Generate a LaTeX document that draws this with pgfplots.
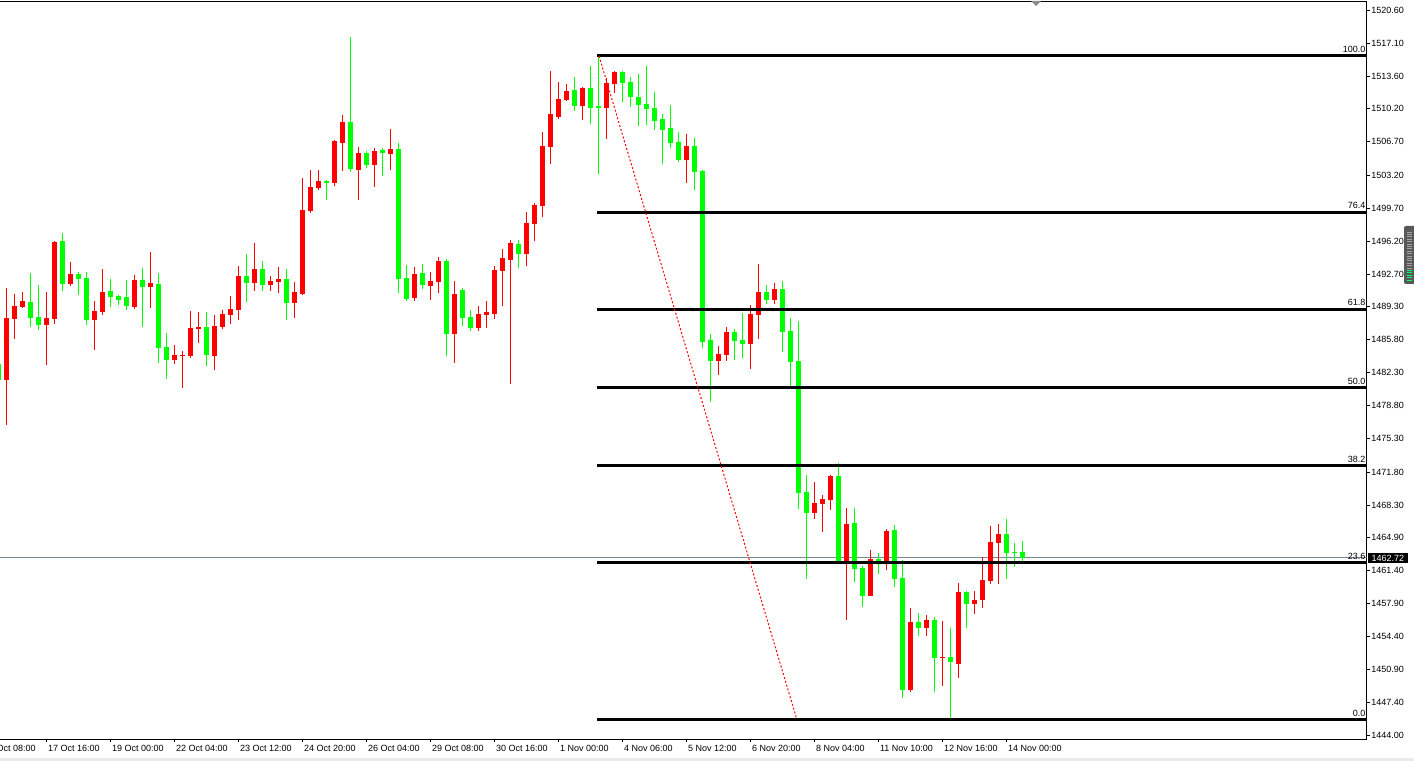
\documentclass[border=0pt]{standalone}
\usepackage{pgfplots}
\pgfplotsset{compat=1.18}
\usepackage{pgfplotstable}
\usepackage{fontspec}
\setmainfont{Liberation Sans}
\definecolor{bull}{RGB}{255,0,0}
\definecolor{bear}{RGB}{0,255,0}
\definecolor{pline}{RGB}{119,136,153}

% bullish candles (drawn red): x = bar index, o h l c
\pgfplotstableread{
x o h l c
0 1481.56 1491.25 1476.80 1488.08
1 1488.00 1490.61 1485.89 1489.35
2 1489.24 1490.82 1489.13 1489.87
5 1487.37 1490.82 1483.14 1488.08
6 1488.00 1496.20 1487.47 1496.11
8 1491.70 1494.00 1491.49 1492.73
11 1487.90 1489.87 1484.73 1488.82
12 1488.74 1493.26 1488.43 1490.82
16 1489.24 1492.62 1489.06 1492.09
18 1491.39 1495.05 1489.17 1491.78
21 1483.67 1485.22 1483.25 1484.17
22 1484.06 1484.59 1480.71 1484.17
23 1484.09 1488.82 1483.88 1487.02
24 1486.95 1488.71 1485.47 1487.13
26 1484.09 1488.39 1482.61 1487.23
27 1487.16 1488.92 1486.95 1488.50
28 1488.43 1490.40 1487.47 1489.03
29 1488.95 1493.57 1487.90 1492.52
31 1491.81 1496.00 1490.96 1493.26
33 1491.60 1492.52 1490.96 1491.99
34 1491.91 1493.47 1490.75 1492.20
36 1489.69 1491.88 1488.11 1490.82
37 1490.61 1502.88 1490.50 1499.49
38 1499.39 1503.72 1499.21 1501.92
39 1501.82 1503.72 1501.64 1502.56
41 1502.35 1506.85 1502.06 1506.79
42 1506.57 1509.53 1503.65 1508.79
44 1503.75 1506.15 1500.58 1505.52
46 1504.28 1506.05 1501.96 1505.73
48 1505.44 1508.05 1503.75 1505.94
51 1490.22 1493.47 1489.91 1492.73
53 1491.49 1492.94 1490.01 1491.99
54 1491.91 1494.53 1490.75 1494.10
56 1486.42 1491.99 1483.35 1490.61
59 1487.05 1489.35 1486.74 1488.50
60 1488.39 1489.87 1487.05 1488.71
61 1488.53 1493.57 1488.00 1493.15
62 1493.08 1495.37 1489.38 1494.42
63 1494.24 1496.32 1481.13 1496.00
65 1494.87 1499.28 1493.61 1498.12
66 1498.04 1500.23 1496.25 1500.02
67 1499.95 1507.74 1498.78 1506.26
68 1506.18 1514.19 1504.39 1509.64
69 1509.35 1513.02 1509.14 1511.23
70 1511.15 1512.81 1511.05 1512.07
72 1510.52 1512.45 1509.04 1512.39
75 1510.31 1513.45 1507.03 1512.92
76 1512.84 1514.19 1511.89 1514.08
85 1504.81 1507.53 1502.38 1506.26
89 1483.56 1485.12 1482.08 1484.27
90 1484.20 1487.13 1483.56 1486.60
93 1485.36 1489.45 1482.72 1488.50
94 1488.43 1493.79 1485.89 1490.82
96 1490.01 1491.78 1489.59 1491.14
101 1467.50 1470.74 1466.86 1468.52
102 1468.45 1469.40 1465.49 1468.95
103 1468.87 1471.48 1467.82 1471.38
105 1462.29 1467.99 1456.19 1466.30
108 1458.72 1463.55 1458.65 1462.60
110 1462.32 1465.77 1461.47 1465.56
113 1448.79 1457.42 1448.58 1455.94
115 1455.34 1456.69 1454.50 1456.16
117 1452.17 1456.05 1449.21 1452.28
119 1451.54 1460.07 1450.06 1459.12
121 1457.88 1459.22 1456.82 1458.27
122 1458.30 1462.82 1457.46 1460.39
123 1460.31 1466.09 1459.99 1464.40
124 1464.33 1466.30 1459.99 1465.25
}\bulls

% bearish candles (drawn lime)
\pgfplotstableread{
x o h l c
-1 1483.22 1483.64 1481.00 1481.52
3 1489.77 1492.80 1487.16 1488.11
4 1488.18 1491.57 1486.84 1487.37
7 1496.18 1497.03 1490.96 1491.70
9 1492.73 1492.94 1490.54 1492.23
10 1492.31 1492.94 1487.37 1487.90
13 1490.93 1492.17 1489.27 1490.33
14 1490.40 1490.51 1489.48 1490.01
15 1490.30 1492.09 1488.95 1489.35
17 1492.09 1493.36 1487.16 1491.39
19 1491.67 1492.83 1483.35 1484.94
20 1485.01 1486.49 1481.66 1483.67
25 1487.13 1488.71 1483.04 1484.20
30 1492.52 1494.84 1489.80 1491.81
32 1493.26 1494.10 1490.96 1491.60
35 1492.20 1493.26 1487.90 1489.69
40 1502.56 1502.66 1500.58 1502.35
43 1508.79 1517.78 1503.54 1503.86
45 1505.52 1505.73 1503.96 1504.28
47 1505.83 1506.05 1503.12 1505.55
49 1505.94 1506.57 1490.75 1492.23
50 1492.34 1493.71 1489.91 1490.12
52 1492.83 1493.79 1491.17 1491.60
55 1494.10 1494.31 1484.09 1486.42
57 1491.04 1491.25 1487.26 1488.11
58 1488.18 1488.92 1486.74 1487.05
64 1495.90 1496.32 1493.39 1494.87
71 1512.18 1513.55 1509.99 1510.52
73 1512.39 1514.71 1508.62 1510.31
74 1510.49 1515.84 1503.33 1510.31
77 1514.08 1514.15 1510.94 1512.95
78 1513.02 1513.55 1510.41 1511.47
79 1511.44 1513.87 1508.40 1510.62
80 1510.70 1514.71 1508.51 1510.20
81 1510.27 1511.97 1507.98 1508.93
82 1509.11 1509.64 1504.39 1507.98
83 1508.16 1510.59 1506.08 1506.61
84 1506.68 1507.74 1504.60 1504.81
86 1506.26 1507.10 1501.64 1503.54
87 1503.65 1503.75 1484.94 1485.57
88 1485.75 1486.39 1479.23 1483.56
91 1486.60 1486.91 1483.67 1485.68
92 1485.75 1488.61 1483.88 1485.36
95 1490.82 1491.57 1489.59 1490.01
97 1491.14 1491.99 1484.52 1486.63
98 1486.70 1488.08 1480.92 1483.46
99 1483.53 1487.76 1467.92 1469.61
100 1469.69 1471.48 1460.52 1467.50
104 1471.38 1472.75 1462.25 1462.32
106 1466.41 1467.99 1460.20 1461.58
107 1461.65 1461.86 1457.56 1458.72
109 1462.60 1463.23 1461.05 1462.32
111 1465.67 1466.20 1459.68 1460.52
112 1460.60 1462.50 1447.94 1448.79
114 1455.94 1456.90 1454.50 1455.34
116 1456.16 1456.47 1448.58 1452.17
118 1452.28 1455.34 1445.62 1451.75
120 1459.12 1459.20 1455.34 1457.88
125 1465.25 1466.83 1460.52 1463.27
126 1463.34 1464.30 1461.79 1463.27
127 1463.34 1464.51 1462.43 1462.72
}\bears

\pgfplotsset{candle/.style 2 args={draw=none, no markers,
  error bars/.cd, y dir=plus, y explicit, error mark=none,
  error bar style={draw=#1, line width=#2}}}

\begin{document}
\begin{tikzpicture}
\path[use as bounding box] (0,0) rectangle (1414pt,761pt);
\fill[white] (0,0) rectangle (1414pt,761pt);
\fill[black!8] (0,0) rectangle (1414pt,3pt);
\begin{axis}[
  at={(0pt,22pt)}, anchor=south west,
  width=1366.7pt, height=737.3pt, scale only axis,
  xmin=-0.7875, xmax=170.05, ymin=1443.58, ymax=1521.51,
  axis line style={black, line width=1pt},
  xtick pos=left, ytick pos=right, yticklabel pos=right,
  tick align=outside, major tick length=3.5pt,
  tick style={black, line width=0.8pt},
  xtick={5,13,21,29,37,45,53,61,69,77,85,93,101,109,117,125},
  xticklabels={17 Oct 16:00,19 Oct 00:00,22 Oct 04:00,23 Oct 12:00,24 Oct 20:00,26 Oct 04:00,29 Oct 08:00,30 Oct 16:00,1 Nov 00:00,4 Nov 06:00,5 Nov 12:00,6 Nov 20:00,8 Nov 04:00,11 Nov 10:00,12 Nov 16:00,14 Nov 00:00},
  ytick={1444.00,1447.40,1450.90,1454.40,1457.90,1461.40,1464.90,1468.30,1471.80,1475.30,1478.80,1482.30,1485.80,1489.30,1492.70,1496.20,1499.70,1503.20,1506.70,1510.20,1513.60,1517.10,1520.60},
  yticklabels={1444.00,1447.40,1450.90,1454.40,1457.90,1461.40,1464.90,1468.30,1471.80,1475.30,1478.80,1482.30,1485.80,1489.30,1492.70,1496.20,1499.70,1503.20,1506.70,1510.20,1513.60,1517.10,1520.60},
  tick label style={font=\fontsize{9}{10}\selectfont, black},
  xticklabel style={anchor=west, yshift=-6.2pt, xshift=0.5pt, inner xsep=1pt, inner ysep=0pt},
  yticklabel style={anchor=west, inner sep=0pt, xshift=1pt},
  clip mode=individual,
]
% current price line
\addplot[pline, line width=1pt, mark=none] coordinates {(-0.7875,1462.72) (170.05,1462.72)};
% wicks
\addplot[candle={bull}{1pt}] table[x=x, y=l, y error plus expr=\thisrow{h}-\thisrow{l}] {\bulls};
\addplot[candle={bear}{1pt}] table[x=x, y=l, y error plus expr=\thisrow{h}-\thisrow{l}] {\bears};
% bodies
\addplot[candle={bull}{5pt}] table[x=x, y=o, y error plus expr=\thisrow{c}-\thisrow{o}] {\bulls};
\addplot[candle={bear}{5pt}] table[x=x, y=c, y error plus expr=\thisrow{o}-\thisrow{c}] {\bears};
% Fibonacci levels
\addplot[black, line width=3pt, mark=none] coordinates {(73.84,1515.84) (170.05,1515.84)};
\addplot[black, line width=3pt, mark=none] coordinates {(73.84,1499.27) (170.05,1499.27)};
\addplot[black, line width=3pt, mark=none] coordinates {(73.84,1489.02) (170.05,1489.02)};
\addplot[black, line width=3pt, mark=none] coordinates {(73.84,1480.74) (170.05,1480.74)};
\addplot[black, line width=3pt, mark=none] coordinates {(73.84,1472.46) (170.05,1472.46)};
\addplot[black, line width=3pt, mark=none] coordinates {(73.84,1462.20) (170.05,1462.20)};
\addplot[black, line width=3pt, mark=none] coordinates {(73.84,1445.64) (170.05,1445.64)};
% trend line
\addplot[bull, line width=1pt, dash pattern=on 2pt off 2pt, mark=none] coordinates {(74.09,1515.77) (98.75,1445.85)};
% level labels
\begin{scope}[every node/.style={anchor=base east, inner sep=0pt, font=\fontsize{9}{10}\selectfont, xshift=-1.2pt, yshift=3.3pt}]
\node at (axis cs:170.05,1515.84) {100.0};
\node at (axis cs:170.05,1499.27) {76.4};
\node at (axis cs:170.05,1489.02) {61.8};
\node at (axis cs:170.05,1480.74) {50.0};
\node at (axis cs:170.05,1472.46) {38.2};
\node at (axis cs:170.05,1462.20) {23.6};
\node at (axis cs:170.05,1445.64) {0.0};
\end{scope}
\node[anchor=west, fill=black, text=white, inner xsep=3.5pt, inner ysep=1.5pt, font=\fontsize{9}{10}\selectfont, xshift=1.3pt] at (axis cs:170.05,1462.72) {1462.72};
\node[anchor=west, inner xsep=1pt, inner ysep=0pt, font=\fontsize{9}{10}\selectfont, yshift=-9.7pt, xshift=0.5pt] at (axis cs:-3,1443.58) {16 Oct 08:00};
\end{axis}
% chart shift marker and scroll handle
\fill[black!45] (1031pt,760pt) -- (1041pt,760pt) -- (1036pt,755pt) -- cycle;
\fill[rounded corners=2pt, black!65] (1404pt,477pt) rectangle (1416pt,535pt);
\foreach \i in {0,...,15} {\draw[black!35, line width=0.8pt] (1407pt,{529pt-\i*2.4pt}) -- (1412pt,{529pt-\i*2.4pt});}
\foreach \i in {16,...,20} {\draw[green!60!cyan, line width=0.8pt] (1407pt,{529pt-\i*2.4pt}) -- (1412pt,{529pt-\i*2.4pt});}
\end{tikzpicture}
\end{document}
